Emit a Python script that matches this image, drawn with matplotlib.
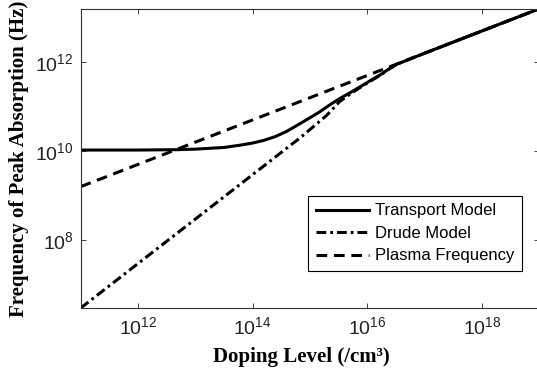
import matplotlib
matplotlib.use('Agg')
import matplotlib.pyplot as plt

# doping levels (/cm^3) and peak absorption frequencies (Hz)
transport_x = [1e11, 1e12, 4.7e12, 1e13, 3.16e13, 6.0e13, 1e14, 1.58e14, 2.5e14, 4.0e14,
               6.8e14, 1e15, 1.48e15, 2.24e15, 3.3e15, 5.0e15, 7.4e15, 1.12e16,
               1.66e16, 2.34e16, 3.2e16, 5.0e16, 1e17, 1e18, 1e19]
transport_y = [1.05e10, 1.05e10, 1.07e10, 1.1e10, 1.2e10, 1.35e10, 1.51e10, 1.74e10, 2.12e10, 2.8e10,
               4.17e10, 5.6e10, 7.6e10, 1.1e11, 1.51e11, 2.04e11, 2.75e11, 3.8e11,
               5.1e11, 6.9e11, 8.8e11, 1.11e12, 1.58e12, 5.0e12, 1.58e13]

drude_x = [1e11, 1e12, 1e13, 1e14, 6.8e14, 1.95e15, 3.3e15, 5.0e15, 7.4e15, 1.12e16,
           1.66e16, 2.34e16, 3.2e16, 5.0e16, 1e17, 1e18, 1e19]
drude_y = [2.95e6, 2.95e7, 2.95e8, 2.95e9, 2.0e10, 6.3e10, 1.3e11, 1.9e11, 2.65e11, 3.7e11,
           5.0e11, 6.8e11, 8.8e11, 1.11e12, 1.58e12, 5.0e12, 1.58e13]

plasma_x = [1e11, 1e19]
plasma_y = [1.58e9, 1.58e13]

xticks = [1e12, 1e14, 1e16, 1e18]
yticks = [1e8, 1e10, 1e12]

plt.rcParams['font.family'] = ['Liberation Sans', 'DejaVu Sans']
plt.rcParams['mathtext.fontset'] = 'custom'
plt.rcParams['mathtext.rm'] = 'Liberation Sans'
plt.rcParams['mathtext.it'] = 'Liberation Sans'
plt.rcParams['mathtext.default'] = 'regular'

fig = plt.figure(figsize=(5.37, 3.71), dpi=100)
ax = fig.add_axes([0.1503, 0.1698, 0.854, 0.8067])

ax.plot(transport_x, transport_y, color='black', lw=2.2, label='Transport Model')
ax.plot(drude_x, drude_y, color='black', lw=2.2, dashes=(3.2, 1.3, 0.9, 1.3),
        dash_capstyle='butt', label='Drude Model')
ax.plot(plasma_x, plasma_y, color='black', lw=2.2, dashes=(3.5, 2.2),
        dash_capstyle='butt', label='Plasma Frequency')

ax.set_xscale('log')
ax.set_yscale('log')
ax.set_xlim(1e11, 1e19)
ax.set_ylim(2.95e6, 1.58e13)
ax.set_xticks(xticks)
ax.set_yticks(yticks)
ax.minorticks_off()
ax.tick_params(direction='in', length=3.5, width=0.6, top=True, right=True,
               labelsize=14, pad=5, colors='#222222')
ax.tick_params(axis='x', pad=6)
for s in ax.spines.values():
    s.set_linewidth(0.8)
    s.set_color('#333333')

ax.set_xlabel('Doping Level (/cm³)', family=['Liberation Serif', 'DejaVu Serif'],
              fontweight='bold', fontsize=15)
ax.set_ylabel('Frequency of Peak Absorption (Hz)', family=['Liberation Serif', 'DejaVu Serif'],
              fontweight='bold', fontsize=15)
ax.xaxis.set_label_coords(0.482, -0.13)
ax.yaxis.set_label_coords(-0.112, 0.5)

leg = ax.legend(loc='upper right', bbox_to_anchor=(0.9715, 0.4717),
                bbox_transform=fig.transFigure, fontsize=12, frameon=True,
                fancybox=False, framealpha=1, edgecolor='black',
                handlelength=3.2, handletextpad=0.35, labelspacing=0.45,
                borderpad=0.45, borderaxespad=0)
leg.get_frame().set_linewidth(0.8)

fig.savefig('out.png', dpi=100)
